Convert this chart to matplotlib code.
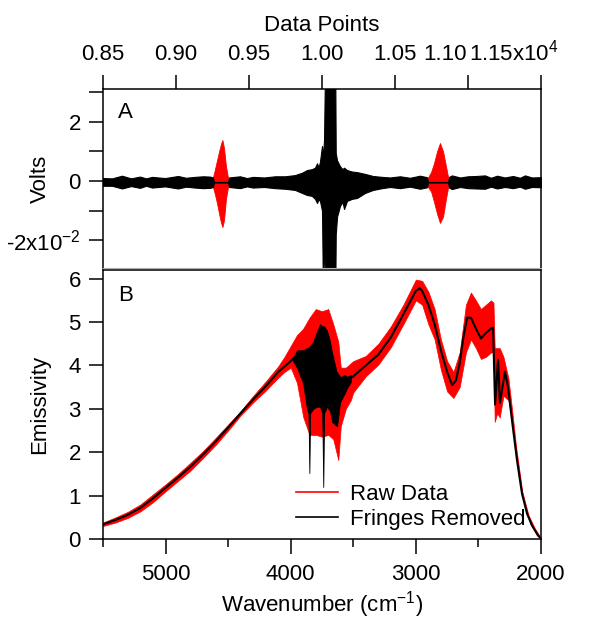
import matplotlib

matplotlib.use("Agg")
import matplotlib.pyplot as plt  # noqa: E402

RED = "#ff0000"
BLACK = "#000000"

# ---- panel A: interferogram envelopes (data points, units of 1e-3 V) ----
ifg_pts = [8500, 8562, 8630, 8692, 8753, 8795, 8836, 8925, 9014, 9068, 9130,
           9185, 9233, 9253, 9260, 9356, 9363, 9438, 9486, 9527, 9603, 9678,
           9747, 9815, 9863, 9897, 9931, 9952, 9966, 9976, 9986, 10000, 10007,
           10014, 10024, 10089, 10094, 10103, 10123, 10140, 10151, 10171,
           10205, 10240, 10295, 10349, 10411, 10466, 10534, 10603, 10671,
           10719, 10726, 10863, 10870, 10890, 10945, 11000, 11055, 11116,
           11157, 11199, 11253, 11308, 11356, 11390, 11438, 11500]
ifg_hi = [1.0, 0.9, 1.8, 0.9, 1.5, 0.9, 1.4, 1.0, 1.7, 1.1, 1.4,
          1.6, 1.5, 1.2, -0.3, -0.3, 1.2, 1.6, 1.0, 1.4, 1.2, 1.6,
          1.6, 2.0, 2.8, 3.7, 4.0, 4.5, 6.0, 4.5, 6.5, 11.8, 8.0,
          14.0, 50.0, 50.0, 9.4, 7.0, 5.0, 4.0, 4.5, 3.7,
          3.2, 3.0, 2.4, 1.7, 1.4, 1.2, 1.6, 1.1, 1.8,
          1.3, -0.3, -0.3, 1.4, 1.9, 1.2, 1.6, 1.7, 1.9,
          1.1, 1.8, 1.2, 1.7, 1.1, 1.9, 1.2, 1.3]
ifg_lo = [-1.6, -1.6, -2.5, -1.7, -2.3, -1.6, -2.2, -1.8, -2.5, -1.9, -2.2,
          -2.4, -2.3, -2.0, -0.5, -0.5, -2.0, -2.4, -1.8, -2.2, -2.0, -2.4,
          -2.6, -3.0, -4.0, -4.7, -5.0, -6.0, -7.4, -6.2, -6.7, -10.0, -40.0,
          -12.0, -50.0, -50.0, -18.0, -12.0, -8.4, -7.0, -9.4, -6.7,
          -6.0, -5.7, -4.0, -3.0, -2.4, -2.0, -2.4, -1.9, -2.6,
          -2.1, -0.5, -0.5, -2.2, -2.7, -2.0, -2.4, -2.5, -2.6,
          -1.9, -2.5, -2.0, -2.4, -1.9, -2.6, -2.0, -2.1]

burst_l_pts = [9253, 9267, 9281, 9295, 9308, 9318, 9329, 9342, 9356]
burst_l_hi = [1.2, 4.0, 7.0, 10.0, 12.5, 13.8, 11.0, 5.0, 1.2]
burst_l_lo = [-2.0, -4.5, -7.5, -11.0, -14.0, -15.5, -13.0, -6.0, -2.0]
burst_r_pts = [10726, 10747, 10767, 10788, 10808, 10829, 10849, 10863]
burst_r_hi = [1.2, 3.0, 6.0, 10.0, 12.8, 10.0, 5.0, 1.5]
burst_r_lo = [-2.0, -3.5, -7.0, -11.0, -14.1, -12.0, -6.0, -2.2]

top_ticks = [8500, 9000, 9500, 10000, 10500, 11000, 11500]
top_labels = ["0.85", "0.90", "0.95", "1.00", "1.05", "", ""]

# ---- panel B: emissivity spectrum ----
raw_wn = [5500, 5400, 5300, 5200, 5100, 5000, 4900, 4800, 4700, 4600, 4500,
          4400, 4300, 4200, 4100, 4050, 4000, 3950, 3900, 3850, 3800, 3750,
          3700, 3660, 3620, 3600, 3560, 3520, 3500, 3400, 3300, 3200, 3100,
          3000, 2950, 2900, 2850, 2800, 2750, 2700, 2650, 2600, 2560, 2520,
          2480, 2440, 2400, 2380, 2370, 2350, 2330, 2300, 2260, 2230, 2200,
          2150, 2100, 2050, 2000]
raw_hi = [0.38, 0.50, 0.63, 0.80, 1.03, 1.26, 1.50, 1.76, 2.03, 2.33, 2.64,
          2.95, 3.30, 3.63, 3.98, 4.20, 4.45, 4.70, 4.85, 5.10, 5.30, 5.25,
          5.30, 4.95, 4.55, 3.95, 3.95, 4.05, 4.10, 4.22, 4.50, 4.90, 5.40,
          5.98, 5.95, 5.70, 5.30, 4.60, 4.10, 3.85, 4.30, 5.40, 5.68, 5.50,
          5.30, 5.40, 5.50, 5.45, 4.40, 4.40, 4.40, 4.20, 3.70, 2.95, 2.15,
          1.10, 0.55, 0.25, 0.02]
raw_lo = [0.30, 0.38, 0.49, 0.64, 0.85, 1.10, 1.34, 1.58, 1.87, 2.17, 2.50,
          2.85, 3.15, 3.42, 3.72, 3.85, 3.95, 3.60, 2.81, 2.40, 2.40, 2.36,
          2.40, 2.30, 1.82, 2.60, 3.00, 3.20, 3.38, 3.75, 4.02, 4.42, 4.95,
          5.50, 5.40, 4.95, 4.60, 3.90, 3.40, 3.25, 3.50, 4.30, 4.60, 4.40,
          4.15, 4.20, 4.30, 4.30, 2.70, 2.90, 2.80, 3.30, 3.20, 2.65, 2.00,
          1.00, 0.50, 0.22, 0.00]

clean_wn = [5500, 5400, 5300, 5200, 5100, 5000, 4900, 4800, 4700, 4600, 4500,
            4400, 4300, 4200, 4100, 4000, 3950, 3900, 3850, 3800, 3750, 3700,
            3650, 3600, 3550, 3500, 3400, 3300, 3200, 3100, 3050, 3000, 2970,
            2950, 2900, 2850, 2800, 2750, 2710, 2680, 2650, 2620, 2590, 2560,
            2520, 2480, 2440, 2400, 2383, 2367, 2343, 2328, 2288, 2264, 2232,
            2192, 2152, 2112, 2072, 2024, 2000]
clean_e = [0.34, 0.44, 0.56, 0.72, 0.94, 1.18, 1.42, 1.67, 1.95, 2.25, 2.57,
           2.90, 3.22, 3.52, 3.85, 4.10, 4.25, 4.20, 4.40, 4.50, 4.50, 4.30,
           3.90, 3.70, 3.65, 3.75, 4.00, 4.25, 4.65, 5.18, 5.45, 5.72, 5.78,
           5.72, 5.40, 4.95, 4.35, 3.85, 3.55, 3.65, 4.05, 4.65, 5.10, 5.10,
           4.85, 4.62, 4.75, 4.85, 4.87, 3.10, 4.13, 3.14, 3.86, 3.51, 2.74,
           1.82, 1.05, 0.59, 0.31, 0.08, 0.01]

# residual fringes left in the black trace near 3900-3550 cm-1
band_wn = [3982, 3950, 3902, 3870, 3858, 3851, 3845, 3820, 3790, 3766, 3748,
           3740, 3733, 3710, 3686, 3670, 3630, 3606, 3570, 3550, 3520]
band_hi = [4.15, 4.35, 4.35, 4.40, 4.40, 4.40, 4.45, 4.55, 4.78, 4.95, 4.90,
           4.90, 4.90, 4.80, 4.55, 4.30, 3.80, 3.72, 3.78, 3.74, 3.78]
band_lo = [4.10, 3.95, 3.60, 3.00, 2.90, 1.52, 2.90, 3.00, 3.05, 3.05, 2.90,
           1.20, 2.90, 3.05, 2.95, 2.70, 2.60, 3.15, 3.35, 3.48, 3.62]

plt.rcParams.update({
    "font.family": ["Liberation Sans", "DejaVu Sans"],
    "font.size": 16,
    "mathtext.default": "regular",
    "axes.unicode_minus": False,
    "axes.linewidth": 1.1,
    "xtick.major.width": 1.1,
    "ytick.major.width": 1.1,
    "xtick.minor.width": 1.1,
    "ytick.minor.width": 1.1,
})

fig = plt.figure(figsize=(5.89, 6.19), dpi=100)
ax_a = fig.add_axes([0.1749, 0.567, 0.7436, 0.2892])
ax_b = fig.add_axes([0.1749, 0.1292, 0.7436, 0.4346])

# panel A
mv = 1e-3
ax_a.fill_between(burst_l_pts, [v * mv for v in burst_l_lo], [v * mv for v in burst_l_hi],
                  color=RED, lw=0.6)
ax_a.fill_between(burst_r_pts, [v * mv for v in burst_r_lo], [v * mv for v in burst_r_hi],
                  color=RED, lw=0.6)
ax_a.fill_between(ifg_pts, [v * mv for v in ifg_lo], [v * mv for v in ifg_hi],
                  facecolor=BLACK, edgecolor=BLACK, lw=0.8)
ax_a.set_xlim(8500, 11500)
ax_a.set_ylim(-0.0293, 0.031)
ax_a.xaxis.tick_top()
ax_a.xaxis.set_label_position("top")
ax_a.set_xticks(top_ticks)
ax_a.set_xticklabels(top_labels)
ax_a.set_xlabel("Data Points", labelpad=10)
ax_a.set_yticks([-0.02, 0, 0.02])
ax_a.set_yticklabels(["-2x10$^{-2}$", "0", "2"])
ax_a.set_yticks([-0.01, 0.01, 0.03], minor=True)
ax_a.tick_params(axis="x", which="major", direction="out", length=10, pad=7)
ax_a.tick_params(axis="y", which="both", direction="out", length=10, pad=6)
ax_a.set_ylabel("Volts")
ax_a.yaxis.set_label_coords(-0.12, 0.5)
ax_a.spines["bottom"].set_color("#b0b0b0")
ax_a.spines["bottom"].set_linewidth(0.8)
ax_a.text(0.035, 0.87, "A", transform=ax_a.transAxes, ha="left", va="center")
# last two top labels are nudged left, as in the source figure
ax_a.annotate("1.10", xy=(445 / 589, 1), xycoords=("figure fraction", "axes fraction"),
              xytext=(0, 17), textcoords="offset points", ha="center", va="bottom")
ax_a.annotate("1.15x10$^{4}$", xy=(469 / 589, 1), xycoords=("figure fraction", "axes fraction"),
              xytext=(0, 17), textcoords="offset points", ha="left", va="bottom")

# panel B
ax_b.fill_between(raw_wn, raw_lo, raw_hi, color=RED, lw=0.5)
ax_b.fill_between(band_wn, band_lo, band_hi, facecolor=BLACK, edgecolor=BLACK, lw=0.6)
ax_b.plot(clean_wn, clean_e, color=BLACK, lw=1.5)
ax_b.plot([], [], color=RED, lw=1.2, label="Raw Data")
ax_b.plot([], [], color=BLACK, lw=1.2, label="Fringes Removed")
ax_b.set_xlim(5500, 2000)
ax_b.set_ylim(0, 6.2)
ax_b.set_xticks([5000, 4000, 3000, 2000])
ax_b.set_xticks([5500, 4500, 3500, 2500], minor=True)
ax_b.set_yticks(range(0, 7))
ax_b.tick_params(axis="x", which="major", direction="out", length=11, pad=7)
ax_b.tick_params(axis="x", which="minor", direction="out", length=6)
ax_b.tick_params(axis="y", which="major", direction="out", length=10, pad=6)
ax_b.set_xlabel("Wavenumber (cm$^{-1}$)", labelpad=3)
ax_b.set_ylabel("Emissivity")
ax_b.yaxis.set_label_coords(-0.12, 0.5)
ax_b.text(0.035, 0.905, "B", transform=ax_b.transAxes, ha="left", va="center")
ax_b.legend(loc="lower left", bbox_to_anchor=(0.42, 0.0), frameon=False,
            handlelength=1.9, handletextpad=0.55, labelspacing=0.2,
            borderaxespad=0, fontsize=16)

fig.savefig("out.png", dpi=100)
